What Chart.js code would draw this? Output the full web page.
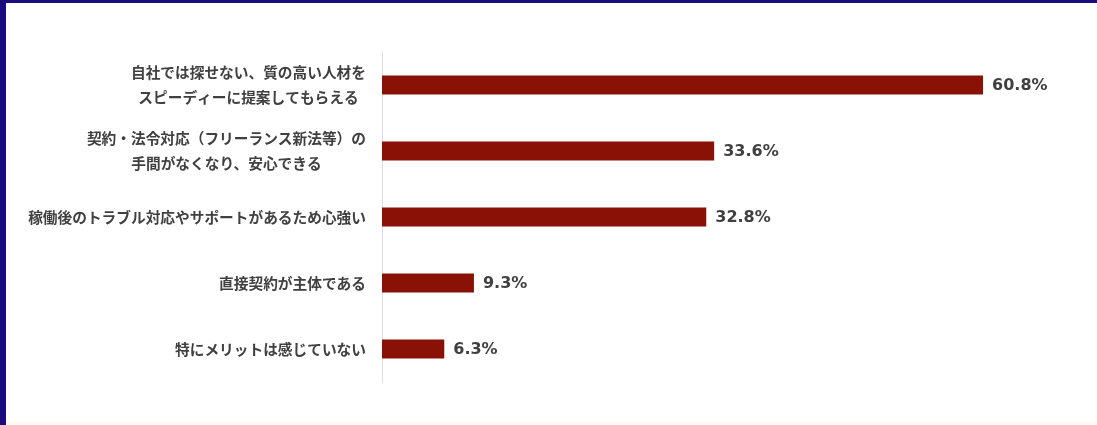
<!DOCTYPE html>
<html lang="ja">
<head>
<meta charset="utf-8">
<script src="https://cdn.jsdelivr.net/npm/chart.js@4"></script>
<style>
  body { margin: 0; background: #ffffff; }
  #wrap { position: relative; width: 1097px; height: 425px; overflow: hidden; background: #ffffff; }
  #chart { position: absolute; left: 0; top: 0; }
  #frame { position: absolute; left: 0; top: 0; width: 1091px; height: 422px;
           border-left: 6px solid #1b0b7f; border-top: 3px solid #1b0b7f; pointer-events: none; }
  #foot { position: absolute; left: 0; bottom: 0; width: 1097px; height: 4px; background: #fdfbf3; }
</style>
</head>
<body>
<div id="wrap">
  <canvas id="chart" width="1097" height="425"></canvas>
  <div id="foot"></div>
  <div id="frame"></div>
</div>
<script>
// categories (multi-line labels as arrays of lines)
var categories = [
  ["自社では探せない、質の高い人材を", "スピーディーに提案してもらえる"],
  ["契約・法令対応（フリーランス新法等）の", "手間がなくなり、安心できる"],
  ["稼働後のトラブル対応やサポートがあるため心強い"],
  ["直接契約が主体である"],
  ["特にメリットは感じていない"]
];
var values = [60.8, 33.6, 32.8, 9.3, 6.3];

var barColor = "#8a1105";
var textColor = "#404040";
var labelFont = "bold 14.7px 'Noto Sans CJK JP', sans-serif";
var valueFont = "bold 16px 'DejaVu Sans', sans-serif";

// draws category labels (lines centred on each other, block right aligned) and value labels
var labelPlugin = {
  id: "labels",
  afterDatasetsDraw: function(chart) {
    var ctx = chart.ctx;
    var yScale = chart.scales.y;
    var area = chart.chartArea;
    ctx.save();
    ctx.fillStyle = textColor;
    ctx.textBaseline = "middle";

    ctx.font = labelFont;
    ctx.textAlign = "center";
    for (var i = 0; i < categories.length; i++) {
      var lines = categories[i];
      var widest = 0;
      for (var j = 0; j < lines.length; j++) {
        widest = Math.max(widest, ctx.measureText(lines[j]).width);
      }
      var cx = area.left - 16 - widest / 2;
      var cy = yScale.getPixelForValue(i);
      var lh = 25.5;
      var top = cy - (lines.length - 1) * lh / 2;
      for (var j = 0; j < lines.length; j++) {
        ctx.fillText(lines[j], cx, top + j * lh);
      }
    }

    ctx.font = valueFont;
    ctx.textAlign = "left";
    var meta = chart.getDatasetMeta(0);
    meta.data.forEach(function(bar, k) {
      ctx.fillText(values[k].toFixed(1) + "%", bar.x + 9, bar.y + 1);
    });
    ctx.restore();
  }
};

var chart1 = new Chart(document.getElementById("chart"), {
  type: "bar",
  data: {
    labels: categories,
    datasets: [{
      data: values,
      backgroundColor: barColor,
      borderWidth: 0,
      barPercentage: 0.29,
      categoryPercentage: 1
    }]
  },
  options: {
    indexAxis: "y",
    responsive: false,
    animation: false,
    events: [],
    layout: { padding: { left: 382, right: 23, top: 52, bottom: 43 } },
    plugins: {
      legend: { display: false },
      tooltip: { enabled: false }
    },
    scales: {
      x: { display: false, min: 0, max: 70 },
      y: {
        ticks: { display: false },
        grid: { display: false, drawTicks: false },
        border: { display: true, color: "#dedede", width: 1 }
      }
    }
  },
  plugins: [labelPlugin]
});
</script>
</body>
</html>
